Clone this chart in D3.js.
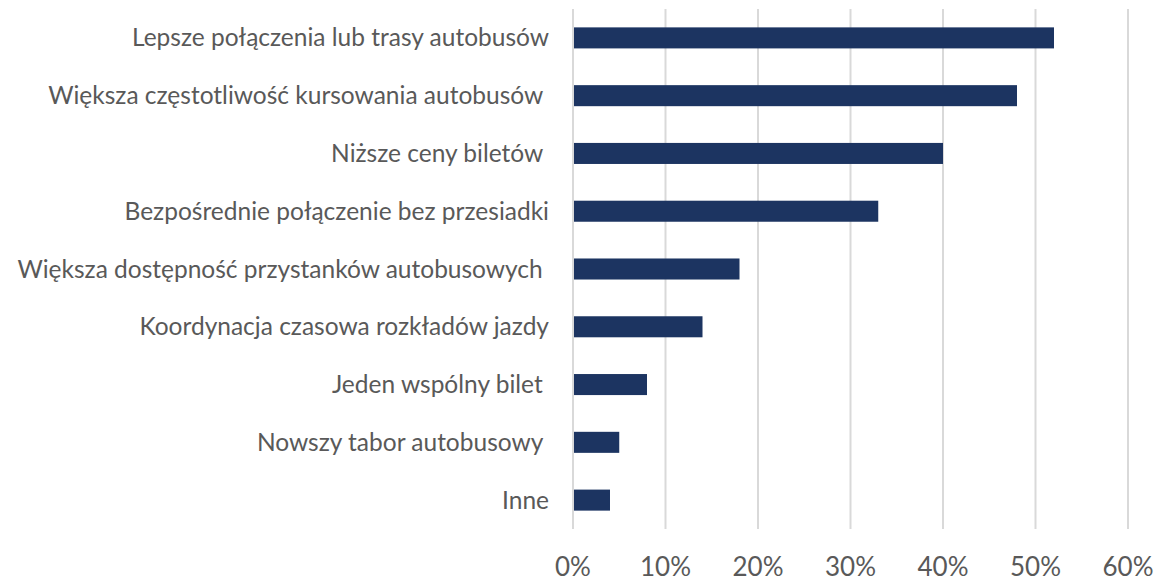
<!DOCTYPE html>
<html><head><meta charset="utf-8">
<script src="https://cdn.jsdelivr.net/npm/d3@7"></script>
<style>body{margin:0;background:#fff}svg{display:block}</style>
</head><body>
<svg id="c" width="1160" height="583"></svg>
<script>
const categories = [
  "Lepsze połączenia lub trasy autobusów",
  "Większa częstotliwość kursowania autobusów ",
  "Niższe ceny biletów ",
  "Bezpośrednie połączenie bez przesiadki",
  "Większa dostępność przystanków autobusowych ",
  "Koordynacja czasowa rozkładów jazdy",
  "Jeden wspólny bilet ",
  "Nowszy tabor autobusowy ",
  "Inne"
];
const values = [52, 48, 40, 33, 18, 14, 8, 5, 4];
const ticks = [0, 10, 20, 30, 40, 50, 60];

const svg = d3.select("#c");
const x = d3.scaleLinear().domain([0, 60]).range([573, 1128]);
const y = d3.scaleBand().domain(categories).range([9, 529]).paddingInner(0.636).paddingOuter(0.318);
const font = "Lato, 'Open Sans', sans-serif";

svg.append("g").selectAll("line").data(ticks).join("line")
  .attr("x1", d => x(d)).attr("x2", d => x(d))
  .attr("y1", 9).attr("y2", 529)
  .attr("stroke", "#d9d9d9").attr("stroke-width", 2);

svg.append("g").selectAll("rect").data(values).join("rect")
  .attr("x", x(0) + 1).attr("y", (d, i) => y(categories[i]))
  .attr("width", d => x(d) - x(0) - 1).attr("height", y.bandwidth())
  .attr("fill", "#1c3461");

svg.append("g").selectAll("text").data(categories).join("text")
  .attr("x", 549).attr("y", d => y(d) + y.bandwidth() / 2)
  .attr("dy", "0.35em").attr("text-anchor", "end")
  .attr("xml:space", "preserve").style("white-space", "pre")
  .attr("font-family", font).attr("font-size", 24.5).attr("fill", "#595959")
  .text(d => d);

svg.append("g").selectAll("text").data(ticks).join("text")
  .attr("x", d => x(d)).attr("y", 576)
  .attr("text-anchor", "middle")
  .attr("font-family", font).attr("font-size", 26).attr("fill", "#595959")
  .text(d => d + "%");
</script>
</body></html>
